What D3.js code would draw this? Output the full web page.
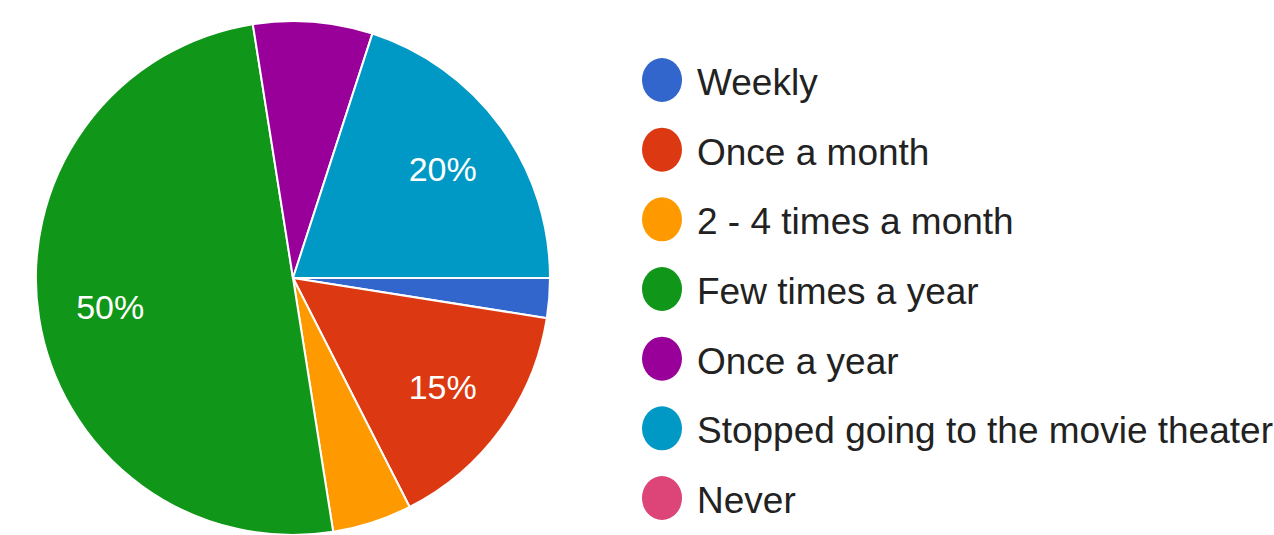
<!DOCTYPE html>
<html>
<head>
    <title>Movie theater frequency</title>
    <script src="https://d3js.org/d3.v7.min.js"></script>
    <style>
        body {margin: 0; background: #ffffff;}
        svg {display: block; font-family: "Liberation Sans", Arial, sans-serif;}
    </style>
</head>
<body>
<script>
    // answers and response counts (40 responses)
    const categories = ["Weekly", "Once a month", "2 - 4 times a month", "Few times a year",
                        "Once a year", "Stopped going to the movie theater", "Never"];
    const counts = [1, 6, 2, 20, 3, 8, 0];
    const colors = ["#3366cc", "#dc3912", "#ff9900", "#109618", "#990099", "#0099c6", "#dd4477"];

    const width = 1274;
    const height = 535;

    const svg = d3.select("body")
        .append("svg")
        .attr("width", width)
        .attr("height", height);

    const data = categories.map(function(c, i) { return {name: c, value: counts[i], color: colors[i]}; });
    const total = d3.sum(counts);

    // pie starts at 3 o'clock and goes clockwise
    const pie = d3.pie()
        .sort(null)
        .value(function(d) { return d.value; })
        .startAngle(Math.PI / 2)
        .endAngle(Math.PI / 2 + 2 * Math.PI);

    const radius = 257;
    const arc = d3.arc().innerRadius(0).outerRadius(radius);
    const labelArc = d3.arc().innerRadius(radius * 0.72).outerRadius(radius * 0.72);

    const g = svg.append("g").attr("transform", "translate(293,278)");

    const slices = pie(data).filter(function(d) { return d.data.value > 0; });

    g.selectAll("path")
        .data(slices)
        .enter()
        .append("path")
        .attr("d", arc)
        .attr("fill", function(d) { return d.data.color; })
        .attr("stroke", "#ffffff")
        .attr("stroke-width", 2);

    // percentage labels only on the bigger slices
    g.selectAll("text")
        .data(slices.filter(function(d) { return d.data.value / total >= 0.1; }))
        .enter()
        .append("text")
        .attr("transform", function(d) { return "translate(" + labelArc.centroid(d) + ")"; })
        .attr("text-anchor", "middle")
        .attr("dy", "0.36em")
        .attr("fill", "#ffffff")
        .style("font-size", "34px")
        .text(function(d) { return Math.round(d.data.value / total * 100) + "%"; });

    // legend
    const rowY = d3.scaleLinear().domain([0, categories.length - 1]).range([80, 498]);

    const legend = svg.append("g");
    const rows = legend.selectAll("g")
        .data(data)
        .enter()
        .append("g")
        .attr("transform", function(d, i) { return "translate(662," + rowY(i) + ")"; });

    rows.append("ellipse")
        .attr("rx", 20)
        .attr("ry", 22)
        .attr("fill", function(d) { return d.color; });

    rows.append("text")
        .attr("x", 35)
        .attr("y", 15)
        .attr("fill", "#222222")
        .style("font-size", "37px")
        .text(function(d) { return d.name; });
</script>
</body>
</html>
